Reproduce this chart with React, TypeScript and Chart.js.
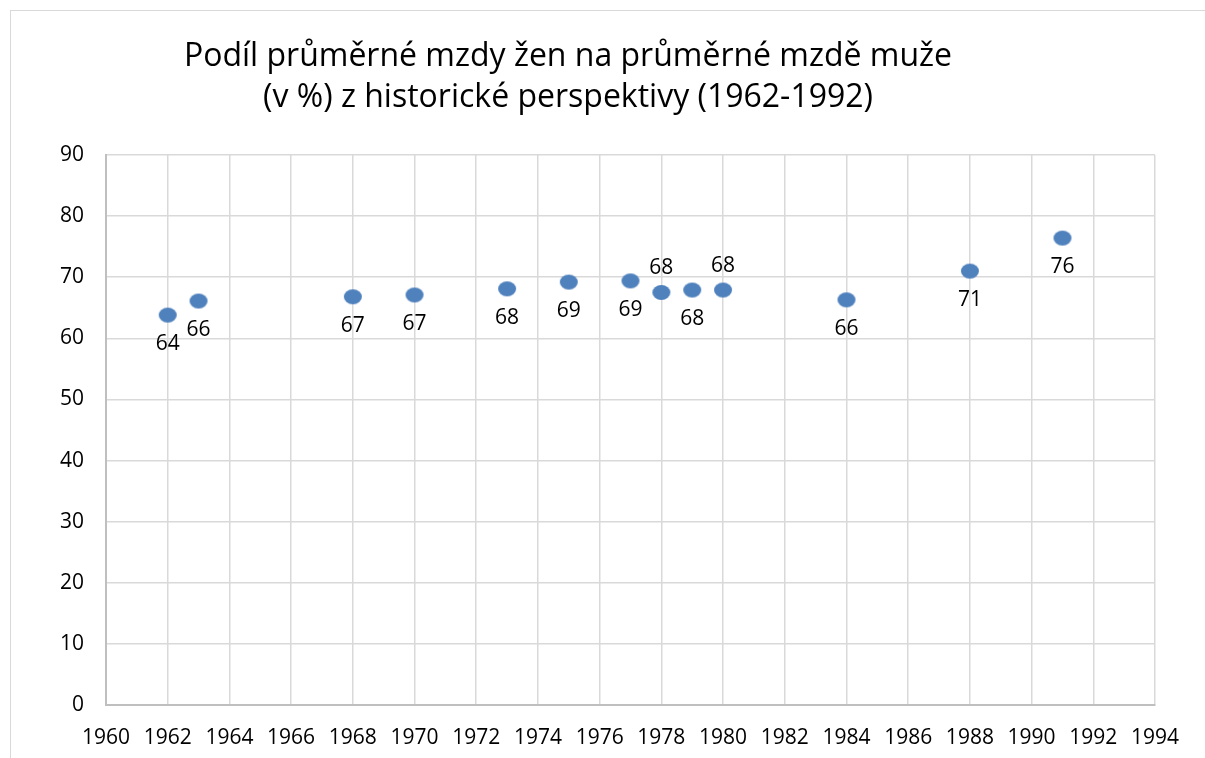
import React, { useEffect, useRef } from "react";
import { Chart, registerables } from "chart.js";

Chart.register(...registerables);

const titleLines = [
  "Podíl průměrné mzdy žen na průměrné mzdě muže",
  "(v %) z historické perspektivy (1962-1992)",
];
const years = [1962, 1963, 1968, 1970, 1973, 1975, 1977, 1978, 1979, 1980, 1984, 1988, 1991];
const shares = [63.8, 66.1, 66.8, 67.1, 68.1, 69.2, 69.4, 67.5, 67.9, 67.9, 66.3, 71.0, 76.4];
const labelSides = ["below", "below", "below", "below", "below", "below", "below", "above", "below", "above", "below", "below", "below"];

const FONT = "'Open Sans', Lato, sans-serif";
const BLUE = "#4F81BD";

function makeEllipse(): HTMLCanvasElement {
  const c = document.createElement("canvas");
  c.width = 20;
  c.height = 17;
  const ctx = c.getContext("2d")!;
  ctx.fillStyle = BLUE;
  ctx.beginPath();
  ctx.ellipse(10, 8.5, 9, 7.5, 0, 0, Math.PI * 2);
  ctx.fill();
  return c;
}

const titlePlugin = {
  id: "customTitle",
  afterDraw(chart: any) {
    const ctx = chart.ctx;
    ctx.save();
    ctx.fillStyle = "#000";
    ctx.font = `32px ${FONT}`;
    ctx.textAlign = "center";
    ctx.textBaseline = "alphabetic";
    ctx.fillText(titleLines[0], 568, 66);
    ctx.fillText(titleLines[1], 568, 107);
    ctx.restore();
  },
};

const labelPlugin = {
  id: "pointLabels",
  afterDatasetsDraw(chart: any) {
    const ctx = chart.ctx;
    const meta = chart.getDatasetMeta(0);
    ctx.save();
    ctx.fillStyle = "#000";
    ctx.font = `21px ${FONT}`;
    ctx.textAlign = "center";
    ctx.textBaseline = "middle";
    meta.data.forEach((pt: any, i: number) => {
      const dy = labelSides[i] === "above" ? -24 : 29;
      ctx.fillText(String(Math.round(shares[i])), pt.x, pt.y + dy);
    });
    ctx.restore();
  },
};

export default function App() {
  const ref = useRef<HTMLCanvasElement>(null);
  useEffect(() => {
    if (!ref.current) return;
    const chart = new Chart(ref.current, {
      type: "scatter",
      data: {
        datasets: [
          {
            data: years.map((y, i) => ({ x: y, y: shares[i] })),
            pointStyle: makeEllipse(),
            backgroundColor: BLUE,
            borderColor: BLUE,
          },
        ],
      },
      options: {
        animation: false,
        responsive: false,
        devicePixelRatio: 1,
        layout: { padding: { top: 155, right: 50, bottom: 0, left: 0 } },
        plugins: {
          legend: { display: false },
          tooltip: { enabled: false },
          title: { display: false },
        },
        scales: {
          x: {
            type: "linear",
            min: 1960,
            max: 1994,
            afterFit: (s: any) => {
              s.height = 53;
            },
            ticks: {
              stepSize: 2,
              padding: 20,
              color: "#000",
              font: { family: FONT, size: 21 },
              callback: (v: any) => String(v),
            },
            grid: { color: "#d9d9d9", lineWidth: 1.5, drawTicks: false },
            border: { color: "#bfbfbf", width: 2 },
          },
          y: {
            min: 0,
            max: 90,
            afterFit: (s: any) => {
              s.width = 106;
            },
            ticks: {
              stepSize: 10,
              padding: 22,
              color: "#000",
              font: { family: FONT, size: 21 },
            },
            grid: { color: "#d9d9d9", lineWidth: 1.5, drawTicks: false },
            border: { color: "#bfbfbf", width: 2 },
          },
        },
      },
      plugins: [titlePlugin, labelPlugin],
    });
    return () => chart.destroy();
  }, []);

  return (
    <div
      style={{
        position: "fixed",
        left: 0,
        top: 0,
        width: 1205,
        height: 758,
        overflow: "hidden",
        background: "#fff",
      }}
    >
      <div
        style={{
          position: "absolute",
          left: 10,
          top: 10,
          width: 1300,
          height: 900,
          border: "1.5px solid #d9d9d9",
          boxSizing: "border-box",
        }}
      />
      <canvas
        ref={ref}
        width={1205}
        height={758}
        style={{ position: "absolute", left: 0, top: 0, width: 1205, height: 758 }}
      />
    </div>
  );
}
